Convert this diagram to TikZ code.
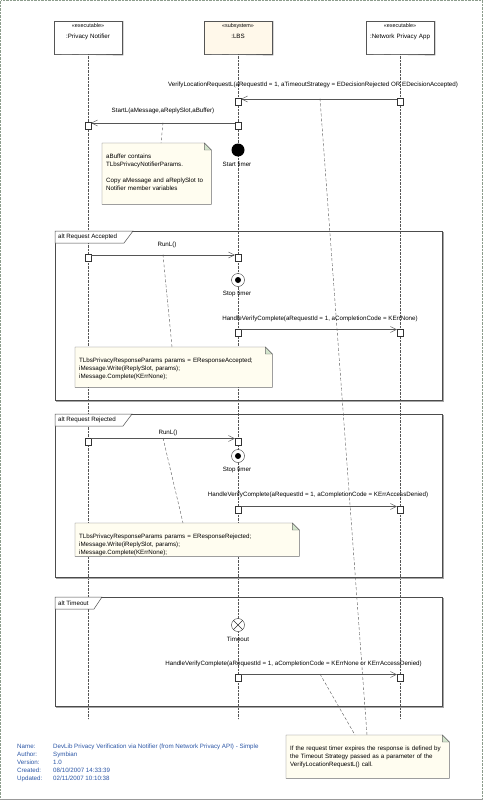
\documentclass[tikz,border=0pt]{standalone}
\usepackage{fontspec}
\setmainfont{Liberation Sans}
\usetikzlibrary{arrows.meta}

\definecolor{linegray}{HTML}{555555}
\definecolor{notegray}{HTML}{6A6A6A}
\definecolor{lbsfill}{HTML}{FFF8EA}
\definecolor{notefill}{HTML}{FFFDF0}
\definecolor{foldfill}{HTML}{D3E5CC}
\definecolor{footblue}{HTML}{2A55A5}
\definecolor{borderc}{HTML}{8C9C8C}

\newcommand{\stereofont}{\fontsize{5.4}{6}\selectfont}
% folded corner and outline of a note
\newcommand{\notecorner}[1]{%
  \fill[white] ([xshift=-7pt]#1.north east) -- (#1.north east) -- ([yshift=-7pt]#1.north east) -- cycle;
  \filldraw[draw=notegray, fill=foldfill] ([xshift=-7pt]#1.north east) -- ([xshift=-7pt,yshift=-7pt]#1.north east) -- ([yshift=-7pt]#1.north east) -- cycle;
  \draw[notegray] (#1.north west) -- ([xshift=-7pt]#1.north east) -- ([yshift=-7pt]#1.north east) -- (#1.south east) -- (#1.south west) -- cycle;
}

\tikzset{
  lifebox/.style={draw=linegray, fill=white, text width=66pt, align=center,
    inner xsep=1pt, inner ysep=0pt, text height=6.5pt, text depth=26.5pt},
  lifeline/.style={draw=linegray, densely dotted},
  act/.style={draw=black!80, fill=white, minimum width=6pt, minimum height=7pt, inner sep=0pt},
  msg/.style={draw=linegray, -{Straight Barb[length=6pt,width=6pt]}},
  msglabel/.style={inner sep=0pt},
  notebox/.style={anchor=north west, fill=notefill, align=left,
    inner xsep=4pt, inner ysep=4pt, text height=11pt},
  noteline/.style={draw=linegray, densely dashed},
  framebox/.style={draw=black!70, line width=0.6pt},
  frametab/.style={draw=black!70, fill=white, line width=0.5pt},
  timerlabel/.style={inner sep=0pt},
}

\begin{document}
\begin{tikzpicture}[x=1pt,y=-1pt,font=\fontsize{6.2}{8}\selectfont]
\useasboundingbox (0,0) rectangle (483,800);

% page border
\draw[borderc, densely dotted] (0.5,799) -- (0.5,0.5) -- (482.5,0.5) -- (482.5,799);
\draw[black!40] (0,799.2) -- (483,799.2);

% lifelines
\node[lifebox] (pn) at (88,37.5) {{\stereofont «executable»}\\[3.5pt]:Privacy Notifier};
\node[lifebox, fill=lbsfill] (lbs) at (238,37.5) {{\stereofont «subsystem»}\\[3.5pt]:LBS};
\node[lifebox] (npa) at (400,37.5) {{\stereofont «executable»}\\[3.5pt]:Network Privacy App};
\draw[black!45] ([xshift=1pt]pn.south west) -- ([xshift=1pt,yshift=-1pt]pn.south east) -- ([xshift=1pt]pn.north east);
\draw[black!45] ([xshift=1pt]lbs.south west) -- ([xshift=1pt,yshift=-1pt]lbs.south east) -- ([xshift=1pt]lbs.north east);
\draw[black!45] ([xshift=1pt]npa.south west) -- ([xshift=1pt,yshift=-1pt]npa.south east) -- ([xshift=1pt]npa.north east);

\draw[lifeline] (pn.south) -- ++(0,665);
\draw[lifeline] (lbs.south) -- ++(0,665);
\draw[lifeline] (npa.south) -- ++(0,665);

% combined fragments
\draw[black!35] (56.2,401.2) -- (443.2,401.2) -- (443.2,232.2);
\draw[framebox] (55,231) rectangle (442,400);
\filldraw[frametab] (55,231) -- (133,231) -- (124,243) -- (55,243) -- cycle;
\node[anchor=west, inner sep=0pt] (alt1) at (58,237) {alt Request Accepted};

\draw[black!35] (56.2,578.2) -- (443.2,578.2) -- (443.2,415.2);
\draw[framebox] (55,414) rectangle (442,577);
\filldraw[frametab] (55,414) -- (132,414) -- (123,426) -- (55,426) -- cycle;
\node[anchor=west, inner sep=0pt] (alt2) at (58,420) {alt Request Rejected};

\draw[black!35] (56.2,707.2) -- (443.2,707.2) -- (443.2,598.2);
\draw[framebox] (55,597) rectangle (442,706);
\filldraw[frametab] (55,597) -- (102,597) -- (94,609) -- (55,609) -- cycle;
\node[anchor=west, inner sep=0pt] (alt3) at (58,603) {alt Timeout};

% note anchors on the messages
\coordinate (p1) at (163,122.5);
\coordinate (p2) at (163,254.5);
\coordinate (p3) at (163,438);
\coordinate (p4) at (320,98.5);
\coordinate (p5) at (320,674);

% notes
\node[notebox, text width=101pt, text depth=42pt] (nt1) at (102,143)
  {aBuffer contains\\TLbsPrivacyNotifierParams.\\[8pt]Copy aMessage and aReplySlot to\\Notifier member variables};
\node[notebox, text width=189pt, text depth=21pt] (nt2) at (75,347)
  {TLbsPrivacyResponseParams params = EResponseAccepted;\\iMessage.Write(iReplySlot, params);\\iMessage.Complete(KErrNone);};
\node[notebox, text width=216pt, text depth=14pt] (nt3) at (75,523)
  {TLbsPrivacyResponseParams params = EResponseRejected;\\iMessage.Write(iReplySlot, params);\\iMessage.Complete(KErrNone);};
\node[notebox, text width=155pt, text depth=24pt] (nt4) at (286,735)
  {If the request timer expires the response is defined by\\the Timeout Strategy passed as a parameter of the\\VerifyLocationRequestL() call.};

\draw[noteline] (p1) -- ([xshift=59pt]nt1.north west);
\draw[noteline] (p2) -- ([xshift=97pt]nt2.north west);
\draw[noteline] (p3) -- ([xshift=108pt]nt3.north west);
\draw[noteline] (p4) -- ([xshift=81pt]nt4.north west);
\draw[noteline] (p5) -- ([xshift=69pt]nt4.north west);
\notecorner{nt1}
\notecorner{nt2}
\notecorner{nt3}
\notecorner{nt4}

% timers
\node[circle, fill=black, minimum size=13pt, inner sep=0pt] (tstart) at (238,150) {};
\node[timerlabel] (tstartlbl) at (237,164) {Start timer};
\node[circle, draw=black!80, fill=white, minimum size=13pt, inner sep=0pt] (tstop1) at (238,280) {};
\fill[black] (tstop1.center) circle[radius=3pt];
\node[timerlabel] (tstop1lbl) at (237,294) {Stop timer};
\node[circle, draw=black!80, fill=white, minimum size=13pt, inner sep=0pt] (tstop2) at (238,456) {};
\fill[black] (tstop2.center) circle[radius=3pt];
\node[timerlabel] (tstop2lbl) at (237,470) {Stop timer};
\node[circle, draw=black!80, fill=white, minimum size=13pt, inner sep=0pt] (tout) at (238,625) {};
\draw[black!80] (tout.north east) -- (tout.south west) (tout.north west) -- (tout.south east);
\node[timerlabel] (toutlbl) at (238,639) {Timeout};

% activations
\node[act] (a1) at (400,102) {};
\node[act] (l1) at (238,102) {};
\node[act] (l2) at (238,126) {};
\node[act] (n2) at (88,126) {};
\node[act] (n3) at (88,258) {};
\node[act] (l3) at (238,258) {};
\node[act] (l4) at (238,332.5) {};
\node[act] (a4) at (400,332.5) {};
\node[act] (n5) at (88,441.5) {};
\node[act] (l5) at (238,441.5) {};
\node[act] (l6) at (238,509.5) {};
\node[act] (a6) at (400,509.5) {};
\node[act] (l7) at (238,677.5) {};
\node[act] (a7) at (400,677.5) {};

% messages
\draw[msg] ([yshift=3pt]a1.west) -- ([yshift=3pt]l1.east);
\node[msglabel] (m1) at (313,85) {VerifyLocationRequestL(aRequestId = 1, aTimeoutStrategy = EDecisionRejected OR EDecisionAccepted)};
\draw[msg] ([yshift=3pt]l2.west) -- ([yshift=3pt]n2.east);
\node[msglabel] (m2) at (163,111) {StartL(aMessage,aReplySlot,aBuffer)};
\draw[msg] ([yshift=3pt]n3.east) -- ([yshift=3pt]l3.west);
\node[msglabel] (m3) at (167,245) {RunL()};
\draw[msg] ([yshift=3pt]l4.east) -- ([yshift=3pt]a4.west);
\node[msglabel] (m4) at (320,319) {HandleVerifyComplete(aRequestId = 1, aCompletionCode = KErrNone)};
\draw[msg] ([yshift=3pt]n5.east) -- ([yshift=3pt]l5.west);
\node[msglabel] (m5) at (168,433) {RunL()};
\draw[msg] ([yshift=3pt]l6.east) -- ([yshift=3pt]a6.west);
\node[msglabel] (m6) at (318,495) {HandleVerifyComplete(aRequestId = 1, aCompletionCode = KErrAccessDenied)};
\draw[msg] ([yshift=3pt]l7.east) -- ([yshift=3pt]a7.west);
\node[msglabel, anchor=east] (m7) at (422,664) {HandleVerifyComplete(aRequestId = 1, aCompletionCode = KErrNone or KErrAccessDenied)};

% diagram details
\node[anchor=north west, inner sep=0pt, text=footblue] (info) at (17,743)
  {\begin{tabular}{@{}p{33pt}@{\hspace{3pt}}l@{}}
   Name: & DevLib Privacy Verification via Notifier (from Network Privacy API) - Simple\\
   Author: & Symbian\\
   Version: & 1.0\\
   Created: & 08/10/2007 14:33:39\\
   Updated: & 02/11/2007 10:10:38
   \end{tabular}};
\end{tikzpicture}
\end{document}
